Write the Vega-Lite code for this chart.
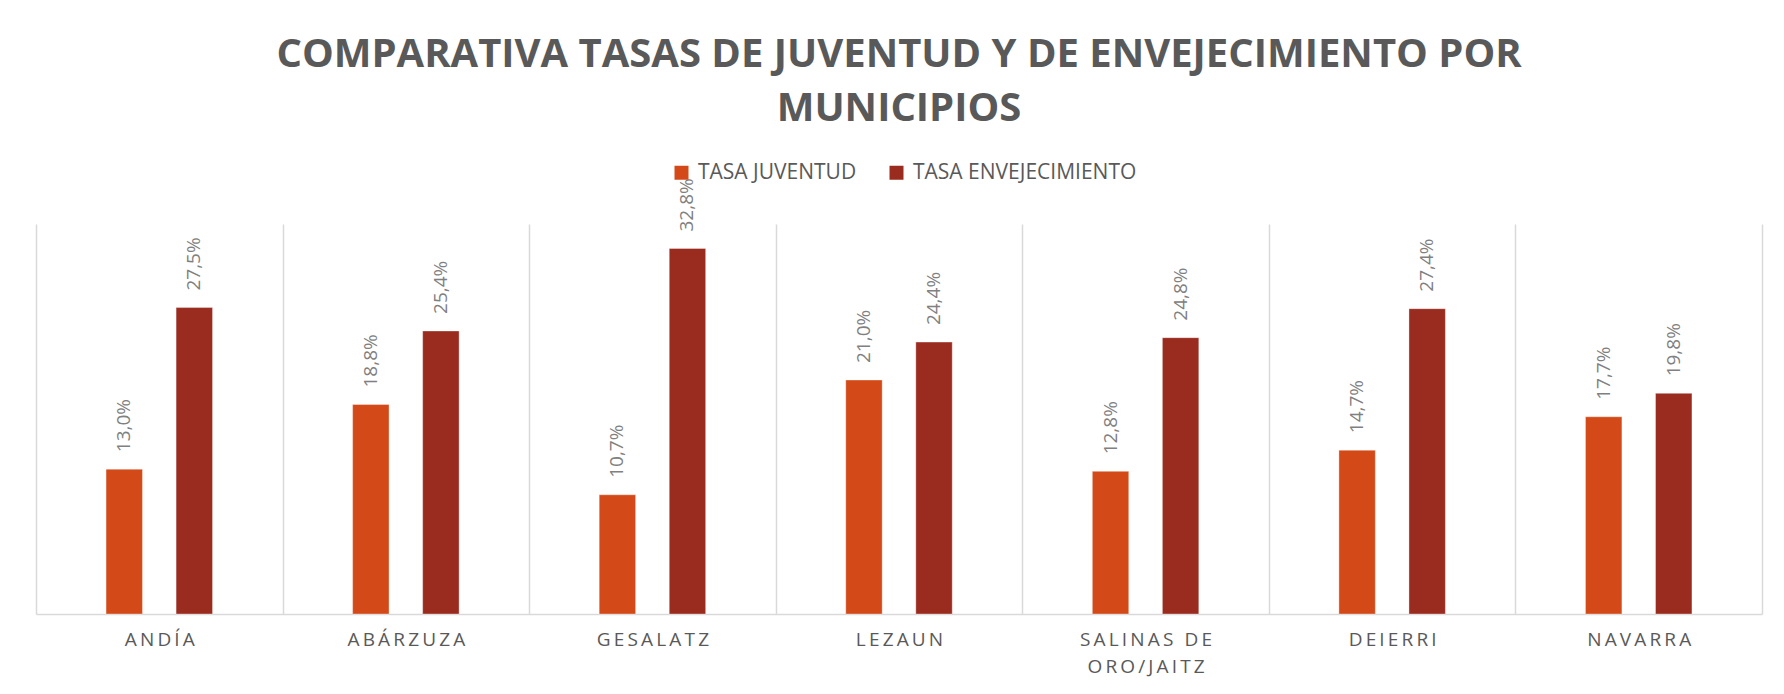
{
  "$schema": "https://vega.github.io/schema/vega-lite/v6.json",
  "width": 1726,
  "height": 390,
  "autosize": {"type": "none"},
  "padding": {"left": 36, "top": 224, "right": 22, "bottom": 80},
  "background": "white",
  "config": {
    "locale": {"number": {"decimal": ",", "thousands": ".", "grouping": [3], "currency": ["", " €"]}},
    "view": {"stroke": null},
    "font": "Open Sans"
  },
  "title": {
    "text": ["COMPARATIVA TASAS DE JUVENTUD Y DE ENVEJECIMIENTO POR", "MUNICIPIOS"],
    "font": "Open Sans",
    "fontSize": 40,
    "fontWeight": "bold",
    "color": "#595959",
    "anchor": "middle",
    "frame": "group",
    "lineHeight": 53.6,
    "baseline": "alphabetic",
    "offset": 1
  },
  "data": {
    "values": [
      {"municipio": "ANDÍA", "serie": "TASA JUVENTUD", "tasa": 0.130},
      {"municipio": "ANDÍA", "serie": "TASA ENVEJECIMIENTO", "tasa": 0.275},
      {"municipio": "ABÁRZUZA", "serie": "TASA JUVENTUD", "tasa": 0.188},
      {"municipio": "ABÁRZUZA", "serie": "TASA ENVEJECIMIENTO", "tasa": 0.254},
      {"municipio": "GESALATZ", "serie": "TASA JUVENTUD", "tasa": 0.107},
      {"municipio": "GESALATZ", "serie": "TASA ENVEJECIMIENTO", "tasa": 0.328},
      {"municipio": "LEZAUN", "serie": "TASA JUVENTUD", "tasa": 0.210},
      {"municipio": "LEZAUN", "serie": "TASA ENVEJECIMIENTO", "tasa": 0.244},
      {"municipio": "SALINAS DE ORO/JAITZ", "serie": "TASA JUVENTUD", "tasa": 0.128},
      {"municipio": "SALINAS DE ORO/JAITZ", "serie": "TASA ENVEJECIMIENTO", "tasa": 0.248},
      {"municipio": "DEIERRI", "serie": "TASA JUVENTUD", "tasa": 0.147},
      {"municipio": "DEIERRI", "serie": "TASA ENVEJECIMIENTO", "tasa": 0.274},
      {"municipio": "NAVARRA", "serie": "TASA JUVENTUD", "tasa": 0.177},
      {"municipio": "NAVARRA", "serie": "TASA ENVEJECIMIENTO", "tasa": 0.198}
    ]
  },
  "encoding": {
    "x": {
      "field": "municipio",
      "type": "nominal",
      "sort": null,
      "scale": {"paddingInner": 0, "paddingOuter": 0},
      "axis": {
        "title": null,
        "labelAngle": 0,
        "labelFont": "Open Sans",
        "labelFontSize": 19,
        "labelColor": "#595959",
        "labelPadding": 16,
        "labelLineHeight": 27,
        "labelBaseline": "top",
        "labelExpr": "datum.label == 'SALINAS DE ORO/JAITZ' ? [join(split('SALINAS DE', ''), '\u2009'), join(split('ORO/JAITZ', ''), '\u2009')] : join(split(datum.label, ''), '\u2009')",
        "ticks": false,
        "grid": true,
        "tickBand": "extent",
        "gridColor": "#d9d9d9",
        "gridWidth": 1.5,
        "domainColor": "#d9d9d9",
        "domainWidth": 1.5
      }
    },
    "xOffset": {
      "field": "serie",
      "type": "nominal",
      "sort": ["TASA JUVENTUD", "TASA ENVEJECIMIENTO"],
      "scale": {"paddingInner": 0.48, "paddingOuter": 1.17}
    },
    "y": {
      "field": "tasa",
      "type": "quantitative",
      "scale": {"domain": [0, 0.35], "nice": false},
      "axis": null
    }
  },
  "layer": [
    {
      "mark": {"type": "bar", "stroke": "white", "strokeOpacity": 0.35, "strokeWidth": 1},
      "encoding": {
        "color": {
          "field": "serie",
          "type": "nominal",
          "sort": ["TASA JUVENTUD", "TASA ENVEJECIMIENTO"],
          "scale": {"domain": ["TASA JUVENTUD", "TASA ENVEJECIMIENTO"], "range": ["#D34A18", "#9A2B1F"]},
          "legend": {
            "title": null,
            "orient": "none",
            "legendX": 635,
            "legendY": -62,
            "direction": "horizontal",
            "symbolType": "square",
            "symbolSize": 196,
            "symbolStrokeWidth": 0,
            "labelFont": "Open Sans",
            "labelFontSize": 21,
            "labelColor": "#595959",
            "labelOffset": 6,
            "columnPadding": 29,
            "padding": 0,
            "labelLimit": 400
          }
        }
      }
    },
    {
      "mark": {
        "type": "text",
        "angle": 270,
        "align": "left",
        "baseline": "middle",
        "dx": 17,
        "font": "Open Sans",
        "fontSize": 19,
        "color": "#808080"
      },
      "encoding": {
        "text": {"field": "tasa", "type": "quantitative", "format": ".1%"}
      }
    }
  ]
}
